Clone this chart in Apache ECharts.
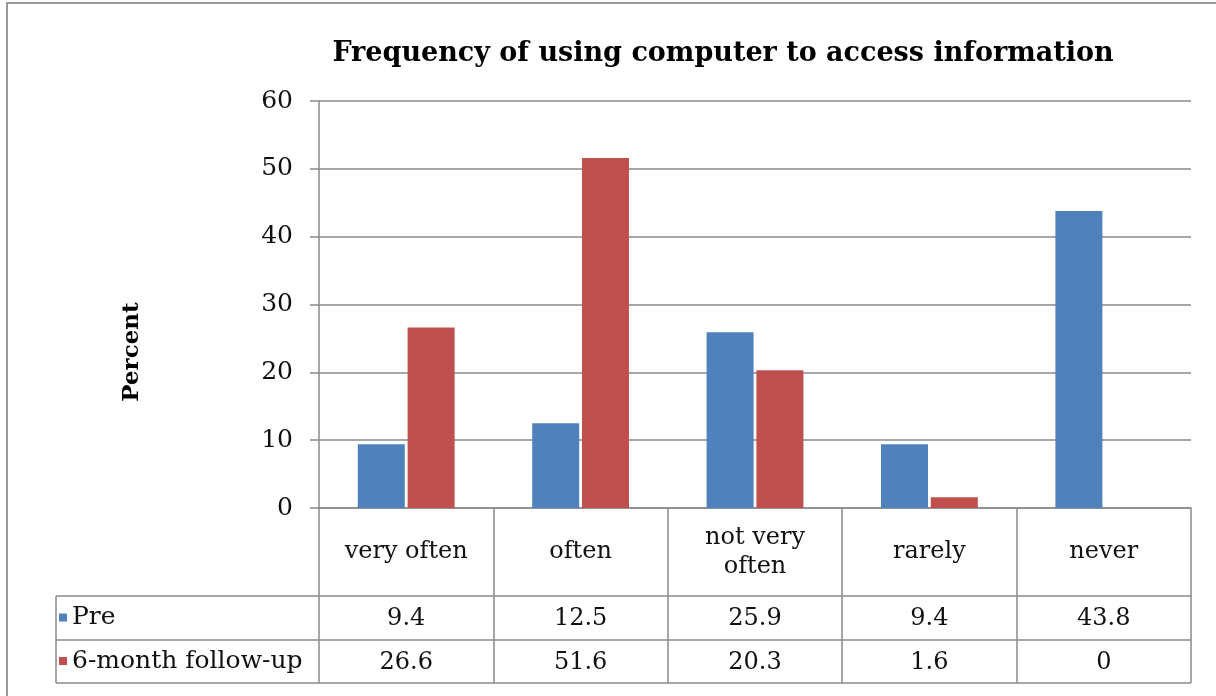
<!DOCTYPE html>
<html>
<head>
<meta charset="utf-8">
<style>
  html, body { margin: 0; padding: 0; background: #fff; }
  #chart { width: 1216px; height: 696px; }
</style>
<script src="https://cdn.jsdelivr.net/npm/echarts@6/dist/echarts.min.js"></script>
</head>
<body>
<div id="chart"></div>
<script>
// Survey responses: share of respondents by frequency of computer use
const categories = ['very often', 'often', 'not very\noften', 'rarely', 'never'];
const preValues = [9.4, 12.5, 25.9, 9.4, 43.8];
const followUpValues = [26.6, 51.6, 20.3, 1.6, 0];
const seriesNames = ['Pre', '6-month follow-up'];
const yTicks = { min: 0, max: 60, interval: 10 };

const FONT = '"DejaVu Serif", serif';
const LINE = '#8a8a8a';
const BLUE = '#4f81bd';
const RED = '#c0504d';
const TABLE_FS = 24;

// plot area (pixels)
const G = { left: 319, right: 1191, top: 101, bottom: 508 };
// data-table rows under the plot
const rowTop = 596, rowMid = 640, rowBottom = 683, tableLeft = 56;

const chart = echarts.init(document.getElementById('chart'));

function valueAxis(values, margin) {
  return {
    type: 'category',
    position: 'bottom',
    data: values.map(v => String(v)),
    axisLine: { show: false },
    axisTick: { show: false },
    axisLabel: {
      margin: margin,
      verticalAlign: 'middle',
      fontFamily: FONT, fontSize: TABLE_FS, color: '#111'
    }
  };
}

function legendRow(name, centerY) {
  return {
    data: [name], left: 59, top: centerY - 14, padding: 0,
    icon: 'rect', itemWidth: 8, itemHeight: 8,
    textStyle: { fontFamily: FONT, fontSize: 25, color: '#111' }
  };
}

const option = {
  backgroundColor: '#fff',
  animation: false,
  title: {
    text: 'Frequency of using computer to access information',
    left: 718, top: 35, textAlign: 'center',
    textStyle: { fontFamily: FONT, fontWeight: 'bold', fontSize: 27, color: '#000' }
  },
  legend: [
    legendRow(seriesNames[0], (rowTop + rowMid) / 2 + 1),
    legendRow(seriesNames[1], (rowMid + rowBottom) / 2 + 1)
  ],
  grid: { left: G.left, right: 1216 - G.right, top: G.top, bottom: 696 - G.bottom, containLabel: false },
  xAxis: [
    {
      type: 'category',
      data: categories,
      axisLine: { show: true, lineStyle: { color: LINE, width: 1.5 } },
      axisTick: { show: true, length: rowBottom - G.bottom, lineStyle: { color: LINE, width: 1.5 } },
      axisLabel: {
        margin: (G.bottom + rowTop) / 2 - G.bottom,
        verticalAlign: 'middle', lineHeight: 29,
        fontFamily: FONT, fontSize: TABLE_FS, color: '#111'
      }
    },
    valueAxis(preValues, (rowTop + rowMid) / 2 - G.bottom + 1),
    valueAxis(followUpValues, (rowMid + rowBottom) / 2 - G.bottom + 1)
  ],
  yAxis: {
    type: 'value',
    min: yTicks.min, max: yTicks.max, interval: yTicks.interval,
    axisLine: { show: true, lineStyle: { color: LINE, width: 1.5 } },
    axisTick: { show: true, length: 9, lineStyle: { color: LINE, width: 1.5 } },
    axisLabel: { margin: 26, fontFamily: FONT, fontSize: 25, color: '#111' },
    splitLine: { show: true, lineStyle: { color: LINE, width: 1.5 } }
  },
  series: [
    {
      name: seriesNames[0], type: 'bar', data: preValues,
      barWidth: 47, barGap: '6%',
      itemStyle: { color: BLUE }
    },
    {
      name: seriesNames[1], type: 'bar', data: followUpValues,
      barWidth: 47, barGap: '6%',
      itemStyle: { color: RED }
    }
  ],
  graphic: [
    // outer frame
    { type: 'rect', shape: { x: 7, y: 3, width: 1260, height: 760 }, style: { fill: 'none', stroke: '#9a9a9a', lineWidth: 2 }, silent: true },
    // rotated axis title
    {
      type: 'text', x: 132, y: 352, rotation: Math.PI / 2,
      style: { text: 'Percent', font: 'bold 23px ' + FONT, fill: '#000', align: 'center', verticalAlign: 'middle' }
    },
    // data-table rules
    { type: 'line', shape: { x1: tableLeft, y1: rowTop, x2: G.right, y2: rowTop }, style: { stroke: LINE, lineWidth: 1.5 } },
    { type: 'line', shape: { x1: tableLeft, y1: rowMid, x2: G.right, y2: rowMid }, style: { stroke: LINE, lineWidth: 1.5 } },
    { type: 'line', shape: { x1: tableLeft, y1: rowBottom, x2: G.right, y2: rowBottom }, style: { stroke: LINE, lineWidth: 1.5 } },
    { type: 'line', shape: { x1: tableLeft, y1: rowTop, x2: tableLeft, y2: rowBottom }, style: { stroke: LINE, lineWidth: 1.5 } }
  ]
};

chart.setOption(option);
</script>
</body>
</html>
